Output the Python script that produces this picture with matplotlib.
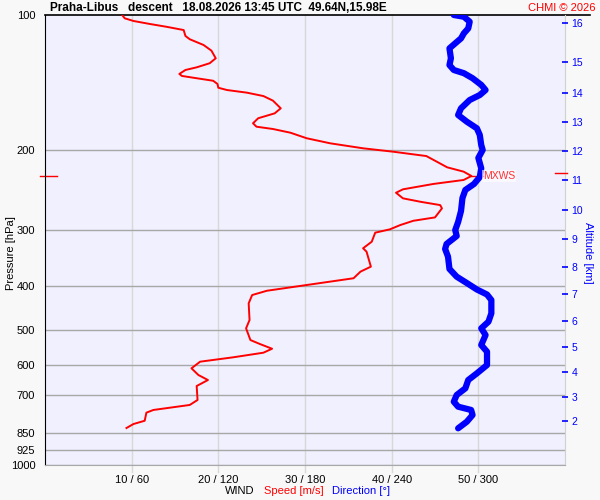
import matplotlib
matplotlib.use("Agg")
import matplotlib.pyplot as plt
import matplotlib.transforms as mtransforms
from matplotlib.ticker import NullLocator

plt.rcParams['font.family'] = ['Liberation Sans', 'DejaVu Sans']

# wind speed profile (hPa, m/s)
speed_p = [100, 101.7, 103.1, 104.7, 106.2, 108.0, 111.3, 113.2, 116.6, 120.0,
           124.8, 128.0, 130.7, 132.5, 135.2, 136.6, 138.2, 140.0, 142.3, 145.1,
           146.8, 148.8, 151.4, 155.0, 161.2, 165.4, 169.6, 174.0, 177.1, 179.2,
           182.6, 187.9, 192.8, 197.8, 201.3, 205.8, 211.8, 218.0, 222.9, 227.9,
           232.6, 237.4, 244.0, 248.3, 255.5, 260.0, 264.5, 269.0, 281.7, 286.6,
           292.9, 299.4, 304.6, 319.0, 329.9, 335.7, 362.4, 371.8, 384.6, 391.3,
           398.1, 410.0, 419.1, 437.3, 476.3, 496.9, 527.6, 538.5, 551.6, 562.9,
           576.4, 589.4, 609.7, 631.0, 647.4, 667.5, 717.0, 735.5, 754.6, 765.1,
           797.4, 810.9, 827.6]
speed = [8.9, 9.2, 10.2, 12.1, 14.0, 16.0, 16.2, 16.7, 18.3, 19.2,
         19.7, 19.0, 17.5, 16.2, 15.5, 15.8, 17.5, 19.4, 19.9, 20.0,
         21.0, 23.3, 25.2, 26.3, 27.2, 26.5, 24.6, 24.0, 24.4, 26.3,
         28.3, 30.2, 32.9, 36.7, 40.2, 44.0, 45.2, 46.4, 48.3, 49.2,
         48.3, 44.8, 41.3, 40.5, 41.3, 43.3, 45.6, 45.8, 45.0, 42.5,
         41.0, 39.8, 38.1, 37.7, 36.7, 37.1, 37.6, 36.4, 35.6, 32.9,
         30.2, 25.6, 23.9, 23.5, 23.6, 23.2, 23.7, 24.8, 26.2, 25.2,
         21.7, 17.9, 16.9, 17.7, 18.8, 17.5, 17.6, 16.7, 12.5, 11.7,
         11.5, 10.2, 9.4]

# wind direction profile (hPa, deg)
dir_p = [100, 100.9, 103.5, 107.1, 109.8, 112.7, 115.6, 118.6, 124.8, 129.2,
         132.5, 134.7, 138.2, 143.0, 146.8, 150.6, 154.5, 161.2, 166.8, 172.6,
         178.6, 184.8, 194.5, 199.5, 207.8, 219.1, 229.1, 237.4, 244.8, 255.1,
         272.6, 288.4, 300.5, 309.8, 322.7, 331.1, 344.4, 366.7, 381.5, 394.1,
         407.4, 418.0, 429.9, 460.2, 480.4, 496.9, 514.2, 541.2, 560.1, 599.6,
         625.6, 647.4, 675.5, 699.0, 723.3, 742.0, 754.6, 774.2, 801.5, 828.8]
direction = [283, 290, 294, 293, 290, 288, 284, 280, 281, 280,
             283, 290, 296, 302, 305, 301, 294, 288, 286, 292,
             299, 301, 302, 303, 300, 302, 301, 297, 291, 289,
             288, 286, 284, 285, 278, 277, 279, 280, 285, 292,
             299, 306, 309, 309, 307, 302, 305, 302, 306, 306,
             299, 293, 291, 285, 283, 286, 295, 296, 292, 286]

mxws_p = 227.9
mxws_speed = 49.2

p_ticks = [100, 200, 300, 400, 500, 600, 700, 850, 925, 1000]
x_ticks = [10, 20, 30, 40, 50]
x_labels = ["10 / 60", "20 / 120", "30 / 180", "40 / 240", "50 / 300"]
alt_km = [2, 3, 4, 5, 6, 7, 8, 9, 10, 11, 12, 13, 14, 15, 16]
alt_p = [798.6, 704.8, 620.3, 546.8, 478.6, 417.5, 363.1, 315.1, 271.3, 233.0,
         200.6, 172.9, 148.8, 127.2, 104.3]

fig = plt.figure(figsize=(6, 5), dpi=100, facecolor='#f8f8f8')
ax = fig.add_axes([0.075, 0.07, 0.8667, 0.90])
ax.set_facecolor('#f0f0fe')

ax.set_yscale('log')
ax.set_ylim(1000, 100)
ax.set_xlim(0, 60)
ax.yaxis.set_minor_locator(NullLocator())
ax.set_yticks(p_ticks)
ax.set_yticklabels([str(p) for p in p_ticks])
ax.set_xticks(x_ticks)
ax.set_xticklabels(x_labels)
ax.tick_params(axis='y', length=0, pad=7, labelsize=8)
ax.tick_params(axis='x', length=0, pad=7, labelsize=8)

# grid
for p in p_ticks[1:]:
    ax.axhline(p, color='#a8a8a8', lw=1, zorder=1)
for xv in x_ticks:
    ax.axvline(xv, ymin=-0.016, ymax=1, color='#d8d8d8', lw=1, zorder=0.5, clip_on=False)

ax.spines['bottom'].set_color('#a8a8a8')
ax.spines['right'].set_color('#d0d0d0')
ax.spines['left'].set_color('black')
ax.spines['top'].set_visible(False)
ax.plot([0, 1.048], [1, 1], color='black', lw=1.2, transform=ax.transAxes, clip_on=False)

# curves
ax.plot(speed, speed_p, color='#ff0000', lw=1.4, zorder=3)
ax.plot([d / 6 for d in direction], dir_p, color='#0000ff', lw=4.5, zorder=4,
        solid_capstyle='round', solid_joinstyle='round')

# max wind marker
ax.plot([mxws_speed, mxws_speed + 1.3], [mxws_p, mxws_p], color='#ff0000', lw=1, zorder=3)
ax.text(mxws_speed + 1.3, mxws_p, "MXWS", color='#ff3030', fontsize=7.5, va='center', ha='left',
        zorder=5, bbox=dict(facecolor='white', edgecolor='none', alpha=0.6, pad=0.5))
trans = mtransforms.blended_transform_factory(ax.transAxes, ax.transData)
ax.plot([-0.0096, 0.023], [mxws_p, mxws_p], color='#ff0000', lw=1, transform=trans, clip_on=False)
ax.plot([0.981, 1.004], [mxws_p * 0.985, mxws_p * 0.985], color='#ff0000', lw=1,
        transform=trans, clip_on=False, zorder=6)

# altitude axis
ax2 = ax.twinx()
ax2.set_yscale('log')
ax2.set_ylim(1000, 100)
ax2.yaxis.set_minor_locator(NullLocator())
ax2.set_yticks(alt_p)
ax2.set_yticklabels([str(a) for a in alt_km])
ax2.tick_params(axis='y', direction='inout', length=5, width=1.2, color='#0000ff',
                labelcolor='#0000ff', labelsize=7.5, pad=2)
for s in ax2.spines.values():
    s.set_visible(False)

fig.text(0.98, 0.494, "Altitude [km]", color='#0000ff', fontsize=8, rotation=-90,
         ha='center', va='center')
fig.text(0.018, 0.494, "Pressure [hPa]", fontsize=8, rotation=90, ha='center', va='center')

# titles
fig.text(0.083, 0.984, "Praha-Libus   descent   18.08.2026 13:45 UTC  49.64N,15.98E",
         fontsize=8.5, fontweight='bold', va='center', ha='left')
fig.text(0.993, 0.984, "CHMI \u00a9 2026", color='#ff0000', fontsize=8, va='center', ha='right')

fig.text(0.424, 0.018, "WIND", fontsize=8, ha='right', va='center')
fig.text(0.44, 0.018, "Speed [m/s]", fontsize=8, color='#ff0000', ha='left', va='center')
fig.text(0.553, 0.018, "Direction [\u00b0]", fontsize=8, color='#0000ff', ha='left', va='center')

fig.savefig('out.png', dpi=100, facecolor=fig.get_facecolor())
